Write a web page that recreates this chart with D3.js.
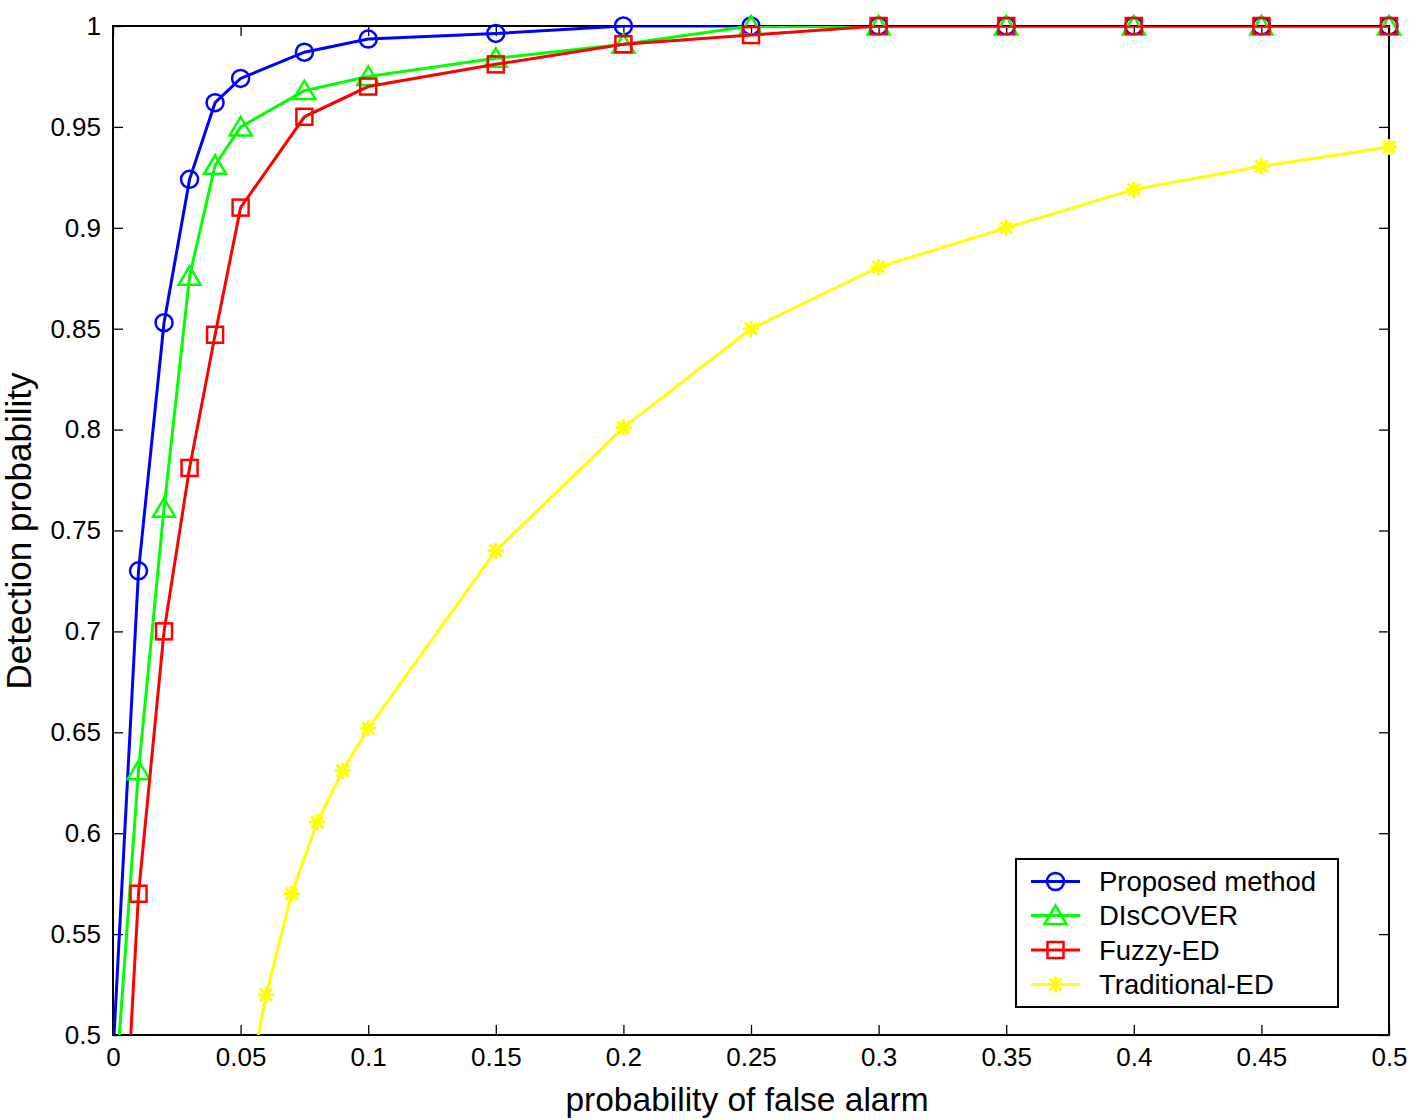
<!DOCTYPE html>
<html>
<head>
<meta charset="utf-8">
<script src="https://cdn.jsdelivr.net/npm/d3@7"></script>
<style>
  html, body { margin: 0; padding: 0; background: #fff; }
  text { font-family: "Liberation Sans", Arial, Helvetica, sans-serif; fill: #000; }
</style>
</head>
<body>
<svg id="chart" width="1419" height="1120"></svg>
<script>
// ---- data ----
const seriesNames = ["Proposed method", "DIsCOVER", "Fuzzy-ED", "Traditional-ED"];
const seriesColors = ["#0000ff", "#00ff00", "#ff0000", "#ffff00"];
const seriesMarkers = ["circle", "triangle", "square", "star"];

const xProposed = [0, 0.01, 0.02, 0.03, 0.04, 0.05, 0.075, 0.1, 0.15, 0.2, 0.25, 0.3, 0.35, 0.4, 0.45, 0.5];
const yProposed = [0.49, 0.730, 0.853, 0.924, 0.962, 0.974, 0.987, 0.9935, 0.9963, 1, 1, 1, 1, 1, 1, 1];

const xDiscover = [0, 0.01, 0.02, 0.03, 0.04, 0.05, 0.075, 0.1, 0.15, 0.2, 0.25, 0.3, 0.35, 0.4, 0.45, 0.5];
const yDiscover = [0.457, 0.631, 0.761, 0.876, 0.931, 0.950, 0.968, 0.975, 0.984, 0.991, 1, 1, 1, 1, 1, 1];

const xFuzzy = [0, 0.01, 0.02, 0.03, 0.04, 0.05, 0.075, 0.1, 0.15, 0.2, 0.25, 0.3, 0.35, 0.4, 0.45, 0.5];
const yFuzzy = [0.34, 0.570, 0.700, 0.781, 0.847, 0.910, 0.955, 0.970, 0.981, 0.991, 0.9955, 1, 1, 1, 1, 1];

const xTraditional = [0.05, 0.06, 0.07, 0.08, 0.09, 0.1, 0.15, 0.2, 0.25, 0.3, 0.35, 0.4, 0.45, 0.5];
const yTraditional = [0.455, 0.520, 0.570, 0.6055, 0.631, 0.652, 0.740, 0.801, 0.850, 0.8805, 0.900, 0.919, 0.9305, 0.940];

const xTicks = [0, 0.05, 0.1, 0.15, 0.2, 0.25, 0.3, 0.35, 0.4, 0.45, 0.5];
const xTickLabels = ["0", "0.05", "0.1", "0.15", "0.2", "0.25", "0.3", "0.35", "0.4", "0.45", "0.5"];
const yTicks = [0.5, 0.55, 0.6, 0.65, 0.7, 0.75, 0.8, 0.85, 0.9, 0.95, 1];
const yTickLabels = ["0.5", "0.55", "0.6", "0.65", "0.7", "0.75", "0.8", "0.85", "0.9", "0.95", "1"];

const xLabel = "probability of false alarm";
const yLabel = "Detection probability";

// ---- layout ----
const L = 113, R = 1389, T = 26, B = 1035;
const svg = d3.select("#chart");
const x = d3.scaleLinear().domain([0, 0.5]).range([L, R]);
const y = d3.scaleLinear().domain([0.5, 1]).range([B, T]);

svg.append("defs").append("clipPath").attr("id", "plotclip")
  .append("rect").attr("x", L).attr("y", T).attr("width", R - L).attr("height", B - T);

// axes with inward ticks, mirrored
const tickLen = 10;
const axisFont = "26px";
svg.append("g").attr("transform", `translate(0,${B})`)
  .call(d3.axisBottom(x).tickValues(xTicks).tickFormat((d, i) => xTickLabels[i]).tickSizeInner(-tickLen).tickSizeOuter(0).tickPadding(13))
  .call(g => { g.select(".domain").remove(); g.selectAll("line").attr("stroke", "#000").attr("stroke-width", 1.3);
               g.selectAll("text").attr("font-size", axisFont).attr("font-family", "Liberation Sans, Arial, sans-serif"); });
svg.append("g").attr("transform", `translate(0,${T})`)
  .call(d3.axisTop(x).tickValues(xTicks).tickFormat("").tickSizeInner(-tickLen).tickSizeOuter(0))
  .call(g => { g.select(".domain").remove(); g.selectAll("line").attr("stroke", "#000").attr("stroke-width", 1.3); });
svg.append("g").attr("transform", `translate(${L},0)`)
  .call(d3.axisLeft(y).tickValues(yTicks).tickFormat((d, i) => yTickLabels[i]).tickSizeInner(-tickLen).tickSizeOuter(0).tickPadding(12))
  .call(g => { g.select(".domain").remove(); g.selectAll("line").attr("stroke", "#000").attr("stroke-width", 1.3);
               g.selectAll("text").attr("font-size", axisFont).attr("font-family", "Liberation Sans, Arial, sans-serif"); });
svg.append("g").attr("transform", `translate(${R},0)`)
  .call(d3.axisRight(y).tickValues(yTicks).tickFormat("").tickSizeInner(-tickLen).tickSizeOuter(0))
  .call(g => { g.select(".domain").remove(); g.selectAll("line").attr("stroke", "#000").attr("stroke-width", 1.3); });

// box
svg.append("rect").attr("x", L).attr("y", T).attr("width", R - L).attr("height", B - T)
  .attr("fill", "none").attr("stroke", "#000").attr("stroke-width", 2);

// axis labels
svg.append("text").attr("x", (L + R) / 2 - 4).attr("y", 1111).attr("text-anchor", "middle")
  .attr("font-size", "33.5px").text(xLabel);
svg.append("text").attr("transform", `translate(31,531) rotate(-90)`).attr("text-anchor", "middle")
  .attr("font-size", "35px").text(yLabel);

// marker drawing
function drawMarker(g, type, cx, cy, color) {
  if (type === "circle") {
    g.append("circle").attr("cx", cx).attr("cy", cy).attr("r", 8.5)
      .attr("fill", "none").attr("stroke", color).attr("stroke-width", 2.5);
  } else if (type === "triangle") {
    const h = 10;
    g.append("path").attr("d", `M${cx},${cy - h} L${cx + h * 1.1},${cy + h * 0.85} L${cx - h * 1.1},${cy + h * 0.85} Z`)
      .attr("fill", "none").attr("stroke", color).attr("stroke-width", 2.5);
  } else if (type === "square") {
    const s = 8;
    g.append("rect").attr("x", cx - s).attr("y", cy - s).attr("width", 2 * s).attr("height", 2 * s)
      .attr("fill", "none").attr("stroke", color).attr("stroke-width", 2.5);
  } else if (type === "star") {
    const a = 8, b = 6;
    g.append("path").attr("d", `M${cx - a},${cy} L${cx + a},${cy} M${cx},${cy - a} L${cx},${cy + a} M${cx - b},${cy - b} L${cx + b},${cy + b} M${cx - b},${cy + b} L${cx + b},${cy - b}`)
      .attr("fill", "none").attr("stroke", color).attr("stroke-width", 3);
  }
}

const allSeries = [
  [xProposed, yProposed],
  [xDiscover, yDiscover],
  [xFuzzy, yFuzzy],
  [xTraditional, yTraditional]
];

const line = d3.line().x(d => x(d[0])).y(d => y(d[1]));
allSeries.forEach((s, i) => {
  const pts = s[0].map((xv, j) => [xv, s[1][j]]);
  const g = svg.append("g");
  g.append("path").attr("d", line(pts)).attr("clip-path", "url(#plotclip)")
    .attr("fill", "none").attr("stroke", seriesColors[i]).attr("stroke-width", 3);
  pts.filter(p => p[1] >= 0.5 && p[0] >= 0 && p[0] <= 0.5).forEach(p => drawMarker(g, seriesMarkers[i], x(p[0]), y(p[1]), seriesColors[i]));
});

// legend
const lg = svg.append("g");
lg.append("rect").attr("x", 1016).attr("y", 859).attr("width", 322).attr("height", 148)
  .attr("fill", "#fff").attr("stroke", "#000").attr("stroke-width", 2);
const rowY = [881.5, 915.5, 950, 984.5];
seriesNames.forEach((name, i) => {
  lg.append("line").attr("x1", 1031).attr("x2", 1080).attr("y1", rowY[i]).attr("y2", rowY[i])
    .attr("stroke", seriesColors[i]).attr("stroke-width", 3);
  drawMarker(lg, seriesMarkers[i], 1055.5, rowY[i], seriesColors[i]);
  lg.append("text").attr("x", 1099).attr("y", rowY[i] + 9.5).attr("font-size", "27.5px").text(name);
});
</script>
</body>
</html>
